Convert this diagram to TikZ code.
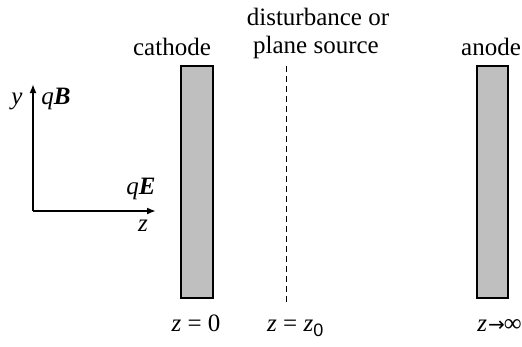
\documentclass[tikz,border=0pt]{standalone}
\usepackage{fontspec}
\setmainfont{Liberation Serif}
\newfontfamily\subfont{Liberation Sans}
\newfontfamily\arrfont{DejaVu Sans}
\usetikzlibrary{arrows.meta}
\begin{document}
\begin{tikzpicture}[x=1pt,y=-1pt,
  lbl/.style={font=\fontsize{25}{29}\selectfont, inner sep=0pt},
  plate/.style={draw=black, line width=2.5pt, fill=black!25},
  axis/.style={line width=2pt, -{Latex[length=9pt,width=7pt]}}]
\useasboundingbox (0,0) rectangle (522,346);
\fill[white] (0,0) rectangle (522,346);
% plates
\draw[plate] (181,66) rectangle (213,298);
\draw[plate] (477,66) rectangle (508,298);
% dashed plane
\coordinate (dtop) at (286,66);
\coordinate (dbot) at (286,305);
\draw[dashed, line width=1pt, dash pattern=on 6pt off 4pt] (dtop) -- (dbot);
% axes
\coordinate (o) at (33,211);
\coordinate (ytip) at (33,84);
\coordinate (ztip) at (156,211);
\draw[axis] (o) -- (ytip);
\draw[axis] (o) -- (ztip);
% labels
\node[lbl] (ylab) at (17,101) {\textit{y}};
\node[lbl] (qB) at (56,99) {\textit{q}\textbf{\textit{B}}};
\node[lbl] (qE) at (141,189) {\textit{q}\textbf{\textit{E}}};
\node[lbl] (zlab) at (143,226) {\textit{z}};
\node[lbl] (cath) at (172,47) {cathode};
\node[lbl] (dist1) at (318,17) {disturbance or};
\node[lbl] (dist2) at (316,47) {plane source};
\node[lbl] (anode) at (491,47) {anode};
\node[lbl] (z0) at (196,323) {\textit{z} = 0};
\node[lbl, anchor=base west] (zz0) at (267,331) {\textit{z} = \textit{z}\raisebox{-5pt}{\subfont\fontsize{18}{20}\selectfont 0}};
\node[lbl, anchor=base east] (zinf) at (522,331) {\textit{z}\kern1pt{\arrfont\fontsize{20}{22}\selectfont →}\kern-1pt∞};
\end{tikzpicture}
\end{document}
